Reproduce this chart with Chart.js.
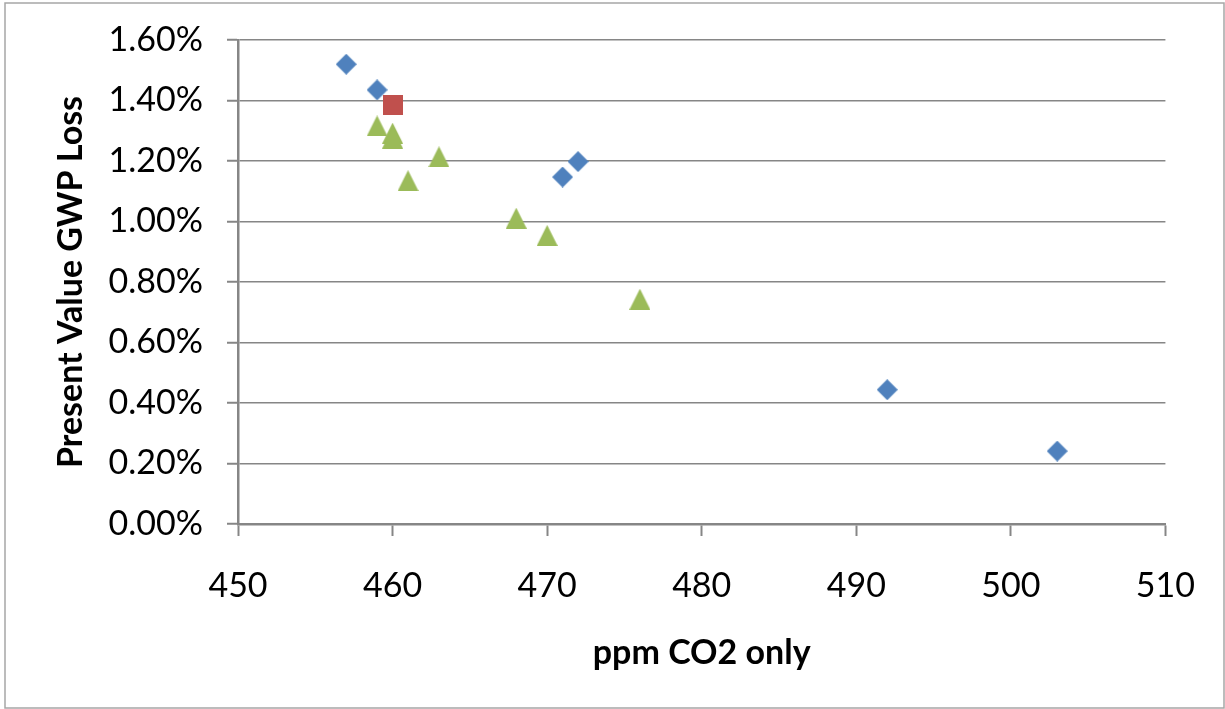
<!DOCTYPE html>
<html>
<head>
<meta charset="utf-8">
<script src="https://cdn.jsdelivr.net/npm/chart.js@4.4.0/dist/chart.umd.min.js"></script>
<style>
  html, body { margin: 0; padding: 0; background: #fff; }
  #wrap { position: relative; width: 1225px; height: 709px; }
</style>
</head>
<body>
<div id="wrap"><canvas id="c" width="1225" height="709"></canvas></div>
<script>
// ---- data ----
const xTitle = 'ppm CO2 only';
const yTitle = 'Present Value GWP Loss';
const xMin = 450, xMax = 510, xStep = 10;
const yMin = 0, yMax = 1.6, yStep = 0.2; // percent

const blueX = [457, 459, 471, 472, 492, 503];
const blueY = [1.52, 1.435, 1.147, 1.198, 0.444, 0.241];

const redX = [460];
const redY = [1.385];

const greenX = [459, 460, 460, 461, 463, 468, 470, 476];
const greenY = [1.316, 1.292, 1.276, 1.135, 1.214, 1.011, 0.954, 0.743];

// ---- marker images ----
function makeMarker(kind, color) {
  const cv = document.createElement('canvas');
  const s = kind === 'square' ? 20 : 21;
  cv.width = s; cv.height = s;
  const g = cv.getContext('2d');
  g.fillStyle = color;
  g.beginPath();
  if (kind === 'diamond') {
    g.moveTo(s / 2, 0); g.lineTo(s, s / 2); g.lineTo(s / 2, s); g.lineTo(0, s / 2);
  } else if (kind === 'triangle') {
    g.moveTo(s / 2, 0); g.lineTo(s, s); g.lineTo(0, s);
  } else {
    g.rect(0, 0, s, s);
  }
  g.closePath();
  g.fill();
  return cv;
}

function pts(xs, ys) { return xs.map((x, i) => ({ x: x, y: ys[i] })); }

const gray = '#868686';
const font = 'Lato, "Open Sans", sans-serif';

const borderPlugin = {
  id: 'outerBorder',
  afterDraw(chart) {
    const ctx = chart.ctx;
    ctx.save();
    ctx.strokeStyle = '#a6a6a6';
    ctx.lineWidth = 1.5;
    ctx.strokeRect(5, 3, 1219, 705);
    ctx.restore();
  }
};

new Chart(document.getElementById('c'), {
  type: 'scatter',
  data: {
    datasets: [
      { label: 'Series 3', data: pts(greenX, greenY), pointStyle: makeMarker('triangle', '#9BBB59'), pointRadius: 10 },
      { label: 'Series 2', data: pts(redX, redY), pointStyle: makeMarker('square', '#C0504D'), pointRadius: 10 },
      { label: 'Series 1', data: pts(blueX, blueY), pointStyle: makeMarker('diamond', '#4F81BD'), pointRadius: 10 }
    ]
  },
  options: {
    responsive: false,
    animation: false,
    devicePixelRatio: 1,
    layout: { padding: { left: 0, top: 40, right: 59, bottom: 0 } },
    plugins: { legend: { display: false }, tooltip: { enabled: false } },
    scales: {
      x: {
        type: 'linear', min: xMin, max: xMax,
        ticks: { stepSize: xStep, color: '#000', font: { family: font, size: 34 }, padding: 30 },
        grid: { drawOnChartArea: false, drawTicks: true, tickLength: 12, tickColor: gray, tickWidth: 2 },
        border: { display: true, color: gray, width: 2.5 },
        title: { display: true, text: xTitle, color: '#000', font: { family: font, size: 34, weight: 'bold' }, padding: { top: 0, bottom: 36 } },
        afterFit(scale) { scale.height = 185; }
      },
      y: {
        min: yMin, max: yMax,
        ticks: { stepSize: yStep, color: '#000', font: { family: font, size: 34, lineHeight: 0.9 }, padding: 24,
          callback: v => v.toFixed(2) + '%' },
        grid: { color: gray, lineWidth: 1.5, drawTicks: true, tickLength: 11, tickColor: gray, tickWidth: 2 },
        border: { display: true, color: gray, width: 2.5 },
        title: { display: true, text: yTitle, color: '#000', font: { family: font, size: 34, weight: 'bold' }, padding: { top: 51, bottom: 0 } },
        afterFit(scale) { scale.width = 238; }
      }
    }
  },
  plugins: [borderPlugin]
});
</script>
</body>
</html>
